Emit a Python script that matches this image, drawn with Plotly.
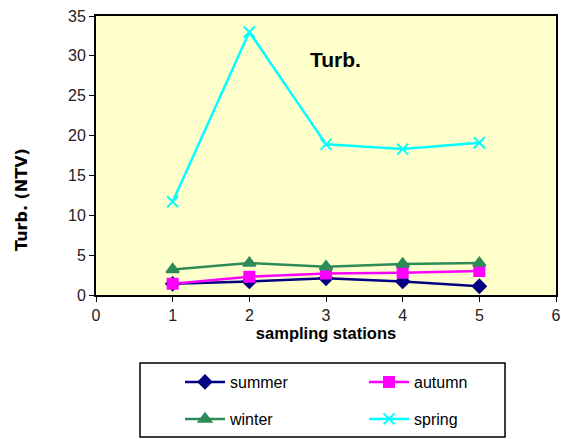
import plotly.graph_objects as go

stations = [1, 2, 3, 4, 5]
summer = [1.4, 1.7, 2.1, 1.7, 1.1]
autumn = [1.4, 2.3, 2.7, 2.8, 3.0]
winter = [3.2, 4.0, 3.55, 3.9, 4.0]
spring = [11.7, 33.0, 18.9, 18.3, 19.1]

FONT = "Liberation Sans, Arial, sans-serif"
WIDE_FONT = "DejaVu Sans, Verdana, sans-serif"

# name, values, colour, marker, marker size, legend slot
series = [
    ("summer", summer, "#000080", "diamond", 10, "legend"),
    ("autumn", autumn, "#FF00FF", "square", 10, "legend2"),
    ("winter", winter, "#2E8B57", "triangle-up", 11, "legend3"),
    ("spring", spring, "#00FFFF", "x-thin-open", 11, "legend4"),
]

fig = go.Figure()
for name, vals, color, sym, size, leg in series:
    fig.add_trace(go.Scatter(
        x=stations, y=vals, name=name, mode="lines+markers",
        line=dict(color=color, width=2.5),
        marker=dict(symbol=sym, size=size, color=color,
                    line=dict(color=color, width=2)),
        legend=leg,
    ))

legend_common = dict(
    xanchor="left", yanchor="middle",
    bgcolor="rgba(0,0,0,0)",
    font=dict(family=FONT, size=16, color="#000"),
    itemwidth=40,
)

# legend grid: two columns, two rows, inside a framed box below the axis
col1, col2 = (180 - 96) / 460, (364 - 96) / 460
row1, row2 = (295 - 382) / 279, (295 - 419) / 279

fig.update_layout(
    width=561, height=439,
    margin=dict(l=96, r=5, t=16, b=144, autoexpand=False),
    paper_bgcolor="white",
    plot_bgcolor="#FFFFCC",
    showlegend=True,
    legend=dict(x=col1, y=row1, **legend_common),
    legend2=dict(x=col2, y=row1, **legend_common),
    legend3=dict(x=col1, y=row2, **legend_common),
    legend4=dict(x=col2, y=row2, **legend_common),
    xaxis=dict(
        range=[0, 6], dtick=1, tick0=0,
        showgrid=False, zeroline=False,
        showline=True, linecolor="black", linewidth=2, mirror=True,
        ticks="outside", ticklen=5, tickcolor="black",
        tickfont=dict(family=FONT, size=16, color="#222"),
        title=dict(text="<b>sampling stations</b>", standoff=4,
                   font=dict(family=FONT, size=16.5, color="#000")),
    ),
    yaxis=dict(
        range=[0, 35], dtick=5,
        showgrid=False, zeroline=False,
        showline=True, linecolor="black", linewidth=2, mirror=True,
        ticks="outside", ticklen=5, tickcolor="black",
        tickfont=dict(family=FONT, size=16, color="#222"),
    ),
    shapes=[dict(
        type="rect", xref="paper", yref="paper",
        x0=(140 - 96) / 460, x1=(505 - 96) / 460,
        y0=(295 - 437) / 279, y1=(295 - 363) / 279,
        line=dict(color="black", width=1.5), fillcolor="rgba(0,0,0,0)",
    )],
    annotations=[
        dict(
            text="<b>Turb.</b>", xref="paper", yref="paper",
            x=(335 - 96) / 460, y=(295 - 46) / 279, showarrow=False,
            font=dict(family=FONT, size=21, color="#000"),
        ),
        # y-axis title, sitting below the vertical centre of the axis
        dict(
            text="<b>Turb. (NTV)</b>", xref="paper", yref="paper",
            x=(21 - 96) / 460, y=(295 - 200) / 279, showarrow=False,
            xanchor="center", yanchor="middle", textangle=-90,
            font=dict(family=WIDE_FONT, size=16, color="#000"),
        ),
    ],
)

fig.write_html("out.html")
